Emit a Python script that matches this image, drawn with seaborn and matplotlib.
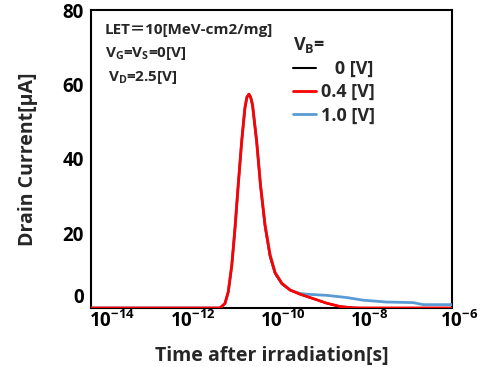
import pandas as pd
import matplotlib
matplotlib.use("Agg")
from matplotlib import pyplot as plt
from matplotlib import ticker, transforms
import seaborn as sns

# values
t_04 = [1e-14, 5e-12, 7.2e-12, 9.3e-12, 1.1e-11, 1.32e-11, 1.55e-11, 1.83e-11, 2.18e-11,
        2.57e-11, 2.85e-11, 3.16e-11, 3.45e-11, 3.8e-11, 4.7e-11, 5.7e-11, 7.2e-11, 9.3e-11,
        1.2e-10, 1.7e-10, 2.6e-10, 4.3e-10, 8.5e-10, 1.66e-9, 3.3e-9, 6.5e-9, 1e-8, 1e-6]
i_04 = [0, 0, 0, 1.2, 4.3, 11.5, 21.3, 33.0, 44.6,
        53.6, 56.6, 57.4, 56.6, 54.5, 44.6, 33.0, 22.2, 14.2,
        9.5, 6.6, 4.8, 3.7, 2.5, 1.3, 0.4, 0.05, 0, 0]

t_0 = [1e-14, 5e-12, 7.2e-12, 9.3e-12, 1.1e-11, 1.32e-11, 1.55e-11, 1.83e-11, 2.18e-11,
       2.57e-11, 2.85e-11, 3.16e-11, 3.45e-11, 3.8e-11, 4.7e-11, 5.7e-11, 7.2e-11, 9.3e-11,
       1.2e-10, 1.7e-10, 2.6e-10, 4.3e-10, 8.5e-10, 1.66e-9, 3.3e-9, 6.5e-9, 1e-8, 1e-6]
i_0 = [0, 0, 0, 1.2, 4.3, 11.5, 21.3, 33.0, 44.6,
       53.6, 56.6, 57.4, 56.6, 54.5, 44.6, 33.0, 21.8, 13.6,
       9.2, 6.4, 4.8, 3.7, 2.5, 1.3, 0.4, 0.05, 0, 0]

t_10 = [1e-14, 5e-12, 7.2e-12, 9.3e-12, 1.1e-11, 1.32e-11, 1.55e-11, 1.83e-11, 2.18e-11,
        2.57e-11, 2.85e-11, 3.16e-11, 3.45e-11, 3.8e-11, 4.7e-11, 5.7e-11, 7.2e-11, 9.3e-11,
        1.2e-10, 1.7e-10, 2.6e-10, 4.3e-10, 6.0e-10, 1.66e-9, 4.7e-9, 1.07e-8, 3.5e-8,
        1.38e-7, 2.3e-7, 1e-6]
i_10 = [0, 0, 0, 1.2, 4.3, 11.5, 21.3, 33.0, 44.6,
        53.6, 56.6, 57.4, 56.6, 54.5, 44.6, 33.0, 22.2, 14.2,
        9.5, 6.6, 4.8, 3.9, 3.7, 3.4, 2.8, 2.1, 1.6,
        1.45, 0.9, 0.9]

x_ticks = [1e-14, 1e-12, 1e-10, 1e-8, 1e-6]
x_ticklabels = [r'$\mathbf{10^{-14}}$', r'$\mathbf{10^{-12}}$', r'$\mathbf{10^{-10}}$',
                r'$\mathbf{10^{-8}}$', r'$\mathbf{10^{-6}}$']
y_ticks = [0, 20, 40, 60, 80]
series_labels = ['   0 [V]', '0.4 [V]', '1.0 [V]']
series_colors = ['black', '#FF0000', '#5B9BD5']

sns.set_style("white")
FONT = 'Open Sans'
plt.rcParams['font.family'] = [FONT, 'DejaVu Sans', 'Noto Sans CJK JP']
plt.rcParams['font.weight'] = 'bold'
plt.rcParams['mathtext.fontset'] = 'custom'
plt.rcParams['mathtext.rm'] = FONT + ':bold'
plt.rcParams['mathtext.bf'] = FONT + ':bold'
plt.rcParams['mathtext.it'] = FONT + ':bold'

fig = plt.figure(figsize=(4.89, 3.67), dpi=100)
ax = fig.add_axes([91 / 489, 59 / 367, 361 / 489, 298 / 367])

df0 = pd.DataFrame({'t': t_0, 'i': i_0})
df04 = pd.DataFrame({'t': t_04, 'i': i_04})
df10 = pd.DataFrame({'t': t_10, 'i': i_10})

sns.lineplot(data=df0, x='t', y='i', color=series_colors[0], lw=1.5, ax=ax, zorder=2)
sns.lineplot(data=df10, x='t', y='i', color=series_colors[2], lw=2, ax=ax, zorder=3)
sns.lineplot(data=df04, x='t', y='i', color=series_colors[1], lw=2, ax=ax, zorder=4)

ax.set_xscale('log')
ax.set_xlim(1e-14, 1e-6)
ax.set_ylim(0, 80)
ax.xaxis.set_major_locator(ticker.FixedLocator(x_ticks))
ax.xaxis.set_minor_locator(ticker.NullLocator())
ax.set_xticklabels(x_ticklabels)
ax.set_yticks(y_ticks)
ax.tick_params(direction='in', length=4.5, width=1.5, labelsize=13.5, colors='black')
ax.tick_params(axis='y', pad=5)
ax.tick_params(axis='x', pad=2)
for lab in ax.get_yticklabels():
    lab.set_fontweight('bold')
# the "10" of each x label sits centred on its tick, exponent hangs right
for k, lab in enumerate(ax.get_xticklabels()):
    dx = -0.02 if k == 0 else -0.115
    lab.set_horizontalalignment('left')
    lab.set_transform(lab.get_transform() + transforms.ScaledTranslation(dx, 0, fig.dpi_scale_trans))
ax.get_yticklabels()[0].set_verticalalignment('bottom')
for s in ax.spines.values():
    s.set_linewidth(1.5)
    s.set_color('black')

ax.set_xlabel('Time after irradiation[s]', fontsize=14, fontweight='bold', labelpad=10)
ax.set_ylabel('Drain Current[μA]', fontsize=14, fontweight='bold', labelpad=18)

ax.text(0.038, 0.932, 'LET\uff1d10[MeV-cm2/mg]', transform=ax.transAxes, fontsize=11,
        fontweight='bold', va='center', family=[FONT, 'Noto Sans CJK JP', 'DejaVu Sans'])
ax.text(0.038, 0.853, r'V$_{\mathbf{G}}$=V$_{\mathbf{S}}$=0[V]', transform=ax.transAxes,
        fontsize=11, fontweight='bold', va='center')
ax.text(0.047, 0.772, r'V$_{\mathbf{D}}$=2.5[V]', transform=ax.transAxes,
        fontsize=11, fontweight='bold', va='center')

handles = [plt.Line2D([], [], color=series_colors[0], lw=1.5),
           plt.Line2D([], [], color=series_colors[1], lw=2),
           plt.Line2D([], [], color=series_colors[2], lw=2)]
leg = ax.legend(handles, series_labels, title=r'V$_{\mathbf{B}}$=', loc='upper left',
                bbox_to_anchor=(0.515, 0.97), frameon=False, fontsize=13,
                handlelength=1.25, handletextpad=0.3, labelspacing=0.28,
                title_fontproperties={'size': 13, 'weight': 'bold'})
leg._legend_box.align = 'left'
for txt in leg.get_texts():
    txt.set_fontweight('bold')

fig.savefig('out.png', dpi=100)
